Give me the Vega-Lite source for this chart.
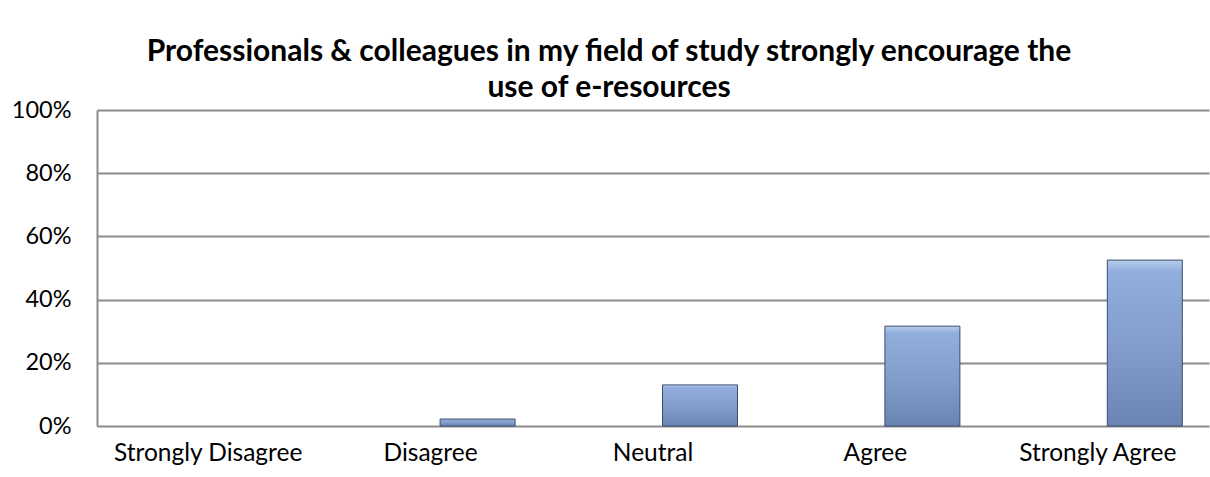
{
  "$schema": "https://vega.github.io/schema/vega-lite/v6.json",
  "autosize": {"type": "none"},
  "padding": {"left": 97, "top": 110, "right": 1, "bottom": 51},
  "width": 1112,
  "height": 316,
  "background": "white",
  "title": {
    "text": ["Professionals & colleagues in my field of study strongly encourage the", "use of e-resources"],
    "font": "Lato",
    "fontSize": 30,
    "fontWeight": "bold",
    "color": "#000000",
    "anchor": "middle",
    "dx": -44,
    "offset": -5,
    "lineHeight": 36
  },
  "data": {
    "values": [
      {"response": "Strongly Disagree", "pct": 0},
      {"response": "Disagree", "pct": 0.022},
      {"response": "Neutral", "pct": 0.13},
      {"response": "Agree", "pct": 0.316},
      {"response": "Strongly Agree", "pct": 0.525}
    ]
  },
  "mark": {
    "type": "bar",
    "width": 75,
    "xOffset": 47,
    "stroke": "#3b4d6e",
    "strokeWidth": 1,
    "fill": {
      "gradient": "linear",
      "x1": 0, "y1": 0, "x2": 0, "y2": 1,
      "stops": [
        {"offset": 0, "color": "#b8cdee"},
        {"offset": 0.07, "color": "#92aedd"},
        {"offset": 0.55, "color": "#819ccb"},
        {"offset": 1, "color": "#6a84b3"}
      ]
    }
  },
  "encoding": {
    "x": {
      "field": "response",
      "type": "nominal",
      "sort": null,
      "scale": {"paddingInner": 0, "paddingOuter": 0},
      "axis": {
        "title": null,
        "labelAngle": 0,
        "labelFont": "Lato",
        "labelFontSize": 24.5,
        "labelColor": "#000000",
        "labelPadding": 15,
        "labelLimit": 0,
        "labelOverlap": false,
        "ticks": false,
        "domain": false,
        "grid": false
      }
    },
    "y": {
      "field": "pct",
      "type": "quantitative",
      "scale": {"domain": [0, 1]},
      "axis": {
        "title": null,
        "format": ".0%",
        "values": [0, 0.2, 0.4, 0.6, 0.8, 1],
        "labelFont": "Lato",
        "labelFontSize": 23.5,
        "labelColor": "#000000",
        "labelPadding": 26,
        "ticks": false,
        "domain": true,
        "domainColor": "#8c8c8c",
        "domainWidth": 2,
        "grid": true,
        "gridColor": "#8c8c8c",
        "gridWidth": 2
      }
    },
    "strokeOpacity": {
      "condition": {"test": "datum.pct == 0", "value": 0},
      "value": 1
    }
  },
  "config": {
    "view": {"stroke": null}
  }
}
